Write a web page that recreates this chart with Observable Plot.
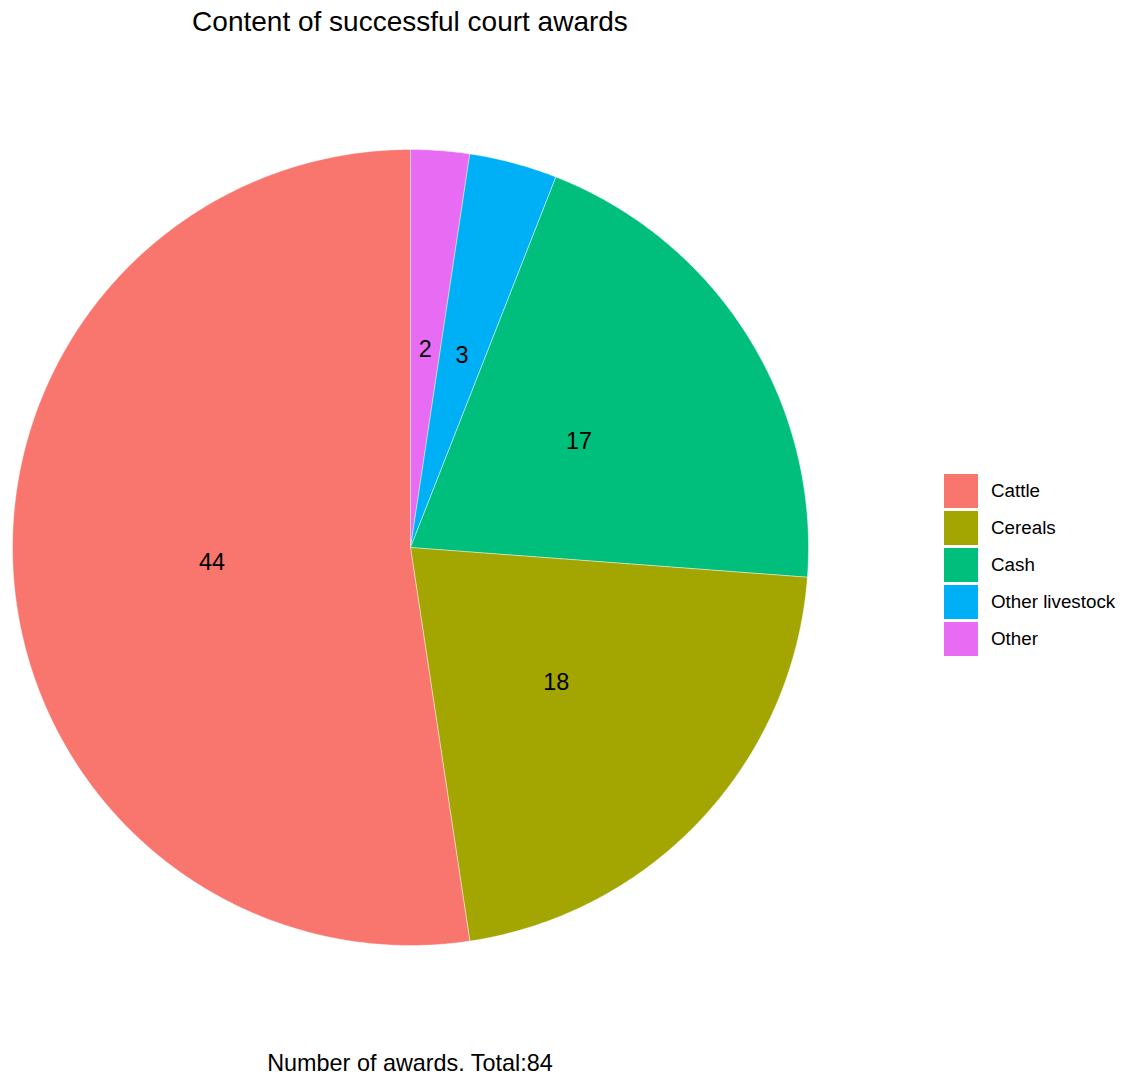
<!DOCTYPE html>
<html>
<head>
<meta charset="utf-8">
<script src="https://cdn.jsdelivr.net/npm/d3@7"></script>
<script src="https://cdn.jsdelivr.net/npm/@observablehq/plot@0.6"></script>
<style>
  html, body { margin: 0; padding: 0; background: #fff; }
  body { width: 1128px; height: 1077px; position: relative; overflow: hidden;
         font-family: "Liberation Sans", Arial, Helvetica, sans-serif; color: #000; }
  #title { position: absolute; left: 0; width: 820px; top: 4px; text-align: center;
           font-size: 28px; line-height: 36px; white-space: nowrap; }
  #chart { position: absolute; left: 0; top: 44px; }
  #caption { position: absolute; left: 0; width: 820px; top: 1049px; text-align: center;
             font-size: 23.4px; line-height: 28px; white-space: nowrap; }
  #legend { position: absolute; left: 944px; top: 474px; }
  .item { display: flex; align-items: center; height: 34px; margin-bottom: 3px; }
  .key { width: 34px; height: 34px; margin-right: 13px; }
  .lab { font-size: 18.8px; white-space: nowrap; }
</style>
</head>
<body>
<div id="title">Content of successful court awards</div>
<div id="chart"></div>
<div id="caption">Number of awards. Total:84</div>
<div id="legend"></div>
<script>
// ---- data ----
const categories = ["Cattle", "Cereals", "Cash", "Other livestock", "Other"];
const counts = [44, 18, 17, 3, 2];
const colors = ["#F8766D", "#A3A500", "#00BF7D", "#00B0F6", "#E76BF3"];

const total = d3.sum(counts);

// slices clockwise from 12 o'clock: drawn in reverse category order (as ggplot stacking)
const order = categories.map((c, i) => i).reverse();
let cum = 0;
const slices = order.map(i => {
  const a0 = cum / total * 2 * Math.PI;
  cum += counts[i];
  const a1 = cum / total * 2 * Math.PI;
  return {category: categories[i], value: counts[i], a0, a1};
});

// polygon points for each slice (unit radius)
const pts = [];
for (const s of slices) {
  const n = Math.max(4, Math.ceil((s.a1 - s.a0) / (Math.PI / 360)));
  pts.push({category: s.category, x: 0, y: 0});
  for (let k = 0; k <= n; k++) {
    const a = s.a0 + (s.a1 - s.a0) * k / n;
    pts.push({category: s.category, x: Math.sin(a), y: Math.cos(a)});
  }
  pts.push({category: s.category, x: 0, y: 0});
}
const labels = slices.map(s => {
  const m = (s.a0 + s.a1) / 2;
  return {category: s.category, value: s.value, x: 0.5 * Math.sin(m), y: 0.5 * Math.cos(m)};
});

const W = 820, H = 990, R = 398, cx = 410, cy = 503;

const chart = Plot.plot({
  width: W,
  height: H,
  margin: 0,
  style: {fontFamily: "Liberation Sans, Arial, sans-serif", background: "white"},
  x: {domain: [-cx / R, (W - cx) / R], axis: null},
  y: {domain: [-(H - cy) / R, cy / R], axis: null},
  color: {domain: categories, range: colors},
  marks: [
    Plot.line(pts, {x: "x", y: "y", z: "category", fill: "category",
                    stroke: "white", strokeWidth: 0.6, strokeOpacity: 0.7, curve: "linear"}),
    Plot.text(labels, {x: "x", y: "y", text: d => String(d.value), fontSize: 23.4, fill: "black"})
  ]
});
document.getElementById("chart").appendChild(chart);

// legend
const leg = document.getElementById("legend");
categories.forEach((c, i) => {
  const item = document.createElement("div");
  item.className = "item";
  const key = document.createElement("div");
  key.className = "key";
  key.style.background = colors[i];
  const lab = document.createElement("span");
  lab.className = "lab";
  lab.textContent = c;
  item.appendChild(key);
  item.appendChild(lab);
  leg.appendChild(item);
});
</script>
</body>
</html>
